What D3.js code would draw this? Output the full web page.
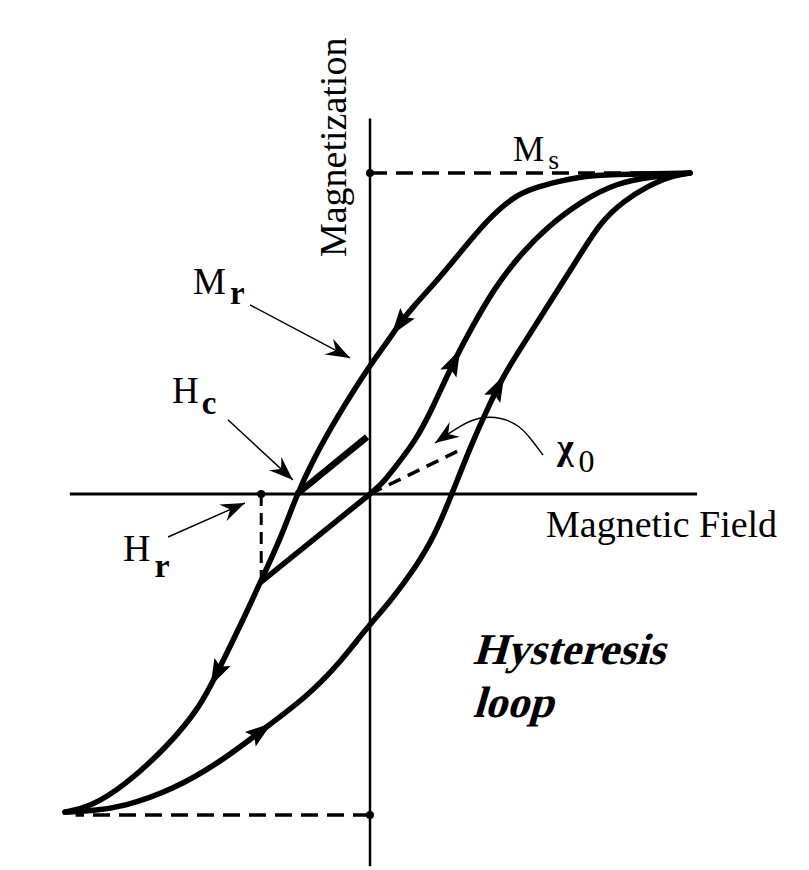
<!DOCTYPE html>
<html>
<head>
<meta charset="utf-8">
<script src="https://cdn.jsdelivr.net/npm/d3@7"></script>
<style>
  html, body { margin: 0; padding: 0; background: #fff; }
  svg { display: block; }
  text { font-family: "Liberation Serif", "Times New Roman", serif; fill: #000; }
</style>
</head>
<body>
<svg id="chart" width="809" height="870"></svg>
<script>
// ---- data (field H and magnetization M, arbitrary units, saturation = 100) ----
const descH = [100, 84.4, 68.8, 59.4, 50.9, 44.7, 36.6, 28.1, 20.3, 13.4, 9.4, 4.7, -0.6, -10.3, -17.8, -22.8, -28.1, -34.4, -39.7, -47.8, -53.1, -63.4, -77.2, -87.5, -95.3];
const descM = [100, 99.7, 99.4, 97.5, 95.3, 92.5, 85.4, 75.1, 65.7, 58.3, 53.3, 46.4, 39.3, 24.0, 10.6, 0, -14.3, -27.7, -39.3, -55.8, -66.4, -78.8, -91.3, -97.5, -99.1];
const ascH = [-95.3, -87.5, -77.2, -61.6, -45.9, -34.4, -19.7, -9.4, -1.6, 6.25, 14.1, 20.3, 25.6, 31.3, 37.5, 41.6, 44.7, 54.7, 64.7, 71.9, 79.7, 86.9, 93.1, 100];
const ascM = [-99.1, -98.8, -97.5, -92.2, -82.9, -74.1, -63.2, -52.6, -42.4, -33.6, -23.1, -12.8, 0, 14.6, 28.3, 36.4, 41.7, 57.3, 72.9, 84.7, 91.6, 95.9, 98.8, 100];
const initH = [0, 3.75, 8.1, 14.4, 19.7, 25.9, 32.2, 38.75, 46.25, 55.3, 66.6, 77.2, 87.5, 100];
const initM = [0, 3.1, 8.7, 16.8, 27.1, 40.8, 52.6, 63.9, 73.8, 83.2, 91.6, 96.9, 98.8, 100];
const recoilH = [-34.4, 0];
const recoilM = [-27.7, 0];
const hcLineH = [-22.8, -0.9];
const hcLineM = [0, 17.8];
const chiH = [0, 28.75];
const chiM = [0, 14];
const Ms = 100, Mneg = -100, Mr = 39.3, Hc = -22.8, Hr = -34;
// direction arrows on the curves: curve name + (H, M) near which they sit
const arrowCurve = ["desc", "desc", "asc", "asc", "init"];
const arrowH = [9.4, -47.8, -34.4, 39.5, 26];
const arrowM = [53.3, -55.8, -74.1, 33, 41];

// ---- scales ----
const svg = d3.select("#chart");
const x = d3.scaleLinear().domain([-100, 100]).range([50, 690]);
const y = d3.scaleLinear().domain([-100, 100]).range([815, 173]);

const zip = (hs, ms) => hs.map((h, i) => [h, ms[i]]);
const line = d3.line().x(d => x(d[0])).y(d => y(d[1])).curve(d3.curveBasis);
const straight = d3.line().x(d => x(d[0])).y(d => y(d[1]));

// ---- axes ----
svg.append("line").attr("x1", x(0)).attr("x2", x(0)).attr("y1", y(117)).attr("y2", y(-116))
  .attr("stroke", "#000").attr("stroke-width", 2.5);
svg.append("line").attr("x1", x(-93.8)).attr("x2", x(102.2)).attr("y1", y(0)).attr("y2", y(0))
  .attr("stroke", "#000").attr("stroke-width", 3);

// ---- dashed guides ----
const dash = "17,9";
svg.append("path").attr("d", straight([[0, Ms], [100, Ms]]))
  .attr("stroke", "#000").attr("stroke-width", 3.5).attr("stroke-dasharray", dash).attr("fill", "none");
svg.append("path").attr("d", straight([[0, Mneg], [-92, Mneg]]))
  .attr("stroke", "#000").attr("stroke-width", 3.5).attr("stroke-dasharray", dash).attr("fill", "none");
svg.append("path").attr("d", straight([[Hr, 0], [Hr, -27.7]]))
  .attr("stroke", "#000").attr("stroke-width", 3).attr("stroke-dasharray", "12,7").attr("fill", "none");
svg.append("path").attr("d", straight(zip(chiH, chiM)))
  .attr("stroke", "#000").attr("stroke-width", 3.5).attr("stroke-dasharray", "13,8").attr("fill", "none");

// dots
[[0, Ms], [0, Mneg], [Hr, 0]].forEach(p => {
  svg.append("circle").attr("cx", x(p[0])).attr("cy", y(p[1])).attr("r", 4).attr("fill", "#000");
});

// ---- curves ----
const curves = {};
function curve(name, data, w) {
  curves[name] = svg.append("path").attr("d", line(data)).attr("fill", "none")
    .attr("stroke", "#000").attr("stroke-width", w)
    .attr("stroke-linejoin", "round").attr("stroke-linecap", "round");
}
curve("desc", zip(descH, descM), 5.5);
curve("asc", zip(ascH, ascM), 5.5);
curve("init", zip(initH, initM), 5.5);
svg.append("path").attr("d", straight(zip(recoilH, recoilM))).attr("stroke", "#000").attr("stroke-width", 5.5).attr("fill", "none");
svg.append("path").attr("d", straight(zip(hcLineH, hcLineM))).attr("stroke", "#000").attr("stroke-width", 6.5).attr("fill", "none");

// direction arrowheads along curves
arrowCurve.forEach((c, i) => {
  const node = curves[c].node();
  const L = node.getTotalLength();
  const tx = x(arrowH[i]), ty = y(arrowM[i]);
  let best = 0, bd = Infinity;
  for (let l = 0; l <= L; l += 1) {
    const p = node.getPointAtLength(l);
    const d = (p.x - tx) ** 2 + (p.y - ty) ** 2;
    if (d < bd) { bd = d; best = l; }
  }
  const p0 = node.getPointAtLength(Math.max(0, best - 4));
  const p1 = node.getPointAtLength(Math.min(L, best + 4));
  const p = node.getPointAtLength(best);
  const ang = Math.atan2(p1.y - p0.y, p1.x - p0.x) * 180 / Math.PI;
  svg.append("path").attr("d", "M15,0 L-12,-9 L-7,0 L-12,9 Z")
    .attr("transform", `translate(${p.x},${p.y}) rotate(${ang})`).attr("fill", "#000");
});

// ---- annotation arrows ----
function pointer(pts, curved) {
  const gen = d3.line().x(d => x(d[0])).y(d => y(d[1])).curve(curved ? d3.curveBasis : d3.curveLinear);
  svg.append("path").attr("d", gen(pts)).attr("fill", "none").attr("stroke", "#000").attr("stroke-width", 1.4);
  const a = pts[pts.length - 2], b = pts[pts.length - 1];
  const ang = Math.atan2(y(b[1]) - y(a[1]), x(b[0]) - x(a[0])) * 180 / Math.PI;
  svg.append("path").attr("d", "M0,0 L-24,-9 L-16,0 L-24,9 Z")
    .attr("transform", `translate(${x(b[0])},${y(b[1])}) rotate(${ang})`).attr("fill", "#000");
}
pointer([[-37.5, 58.9], [-6.25, 42.4]]);
pointer([[-44.4, 23.1], [-24.1, 4.4]]);
pointer([[-63.1, -13.4], [-39.1, -2.8]]);
pointer([[54.1, 12.1], [50.6, 16.8], [46.9, 21.2], [41, 24], [34, 24], [28.5, 21.5], [20.3, 15.9]], true);

// ---- labels ----
svg.append("text").attr("transform", `translate(${x(-7.6)},${y(108)}) rotate(-90)`)
  .attr("text-anchor", "middle").attr("font-size", 38).text("Magnetization");
svg.append("text").attr("x", x(55)).attr("y", y(-13.4)).attr("font-size", 38).text("Magnetic Field");

function subLabel(main, sub, px, py, size, subSize, subDx, subDy, mainBold, subBold) {
  const t = svg.append("text").attr("x", px).attr("y", py).attr("font-size", size)
    .attr("font-weight", mainBold ? "bold" : "normal");
  t.append("tspan").text(main);
  t.append("tspan").attr("dx", subDx).attr("dy", subDy).attr("font-size", subSize)
    .attr("font-weight", subBold ? "bold" : "normal").text(sub);
}
subLabel("M", "s", x(44.7), y(103.7), 35, 28, 4, 8, false, false);
subLabel("M", "r", x(-55.3), y(62.3), 37, 33, 4, 10, false, true);
subLabel("H", "c", x(-61.9), y(28.3), 37, 33, 3, 11, false, true);
subLabel("H", "r", x(-77.2), y(-21), 38, 34, 4, 16, false, true);
subLabel("\u03C7", "0", x(58.4), y(10.9), 36, 32, 5, 13, true, false);

// bold serif with a slant (bold-italic look)
function slanted(str, px, py) {
  svg.append("text").attr("transform", `translate(${px},${py}) skewX(-16)`)
    .attr("font-size", 44).attr("font-weight", "bold").text(str);
}
slanted("Hysteresis", x(32), y(-53));
slanted("loop", x(32), y(-69.5));
</script>
</body>
</html>
